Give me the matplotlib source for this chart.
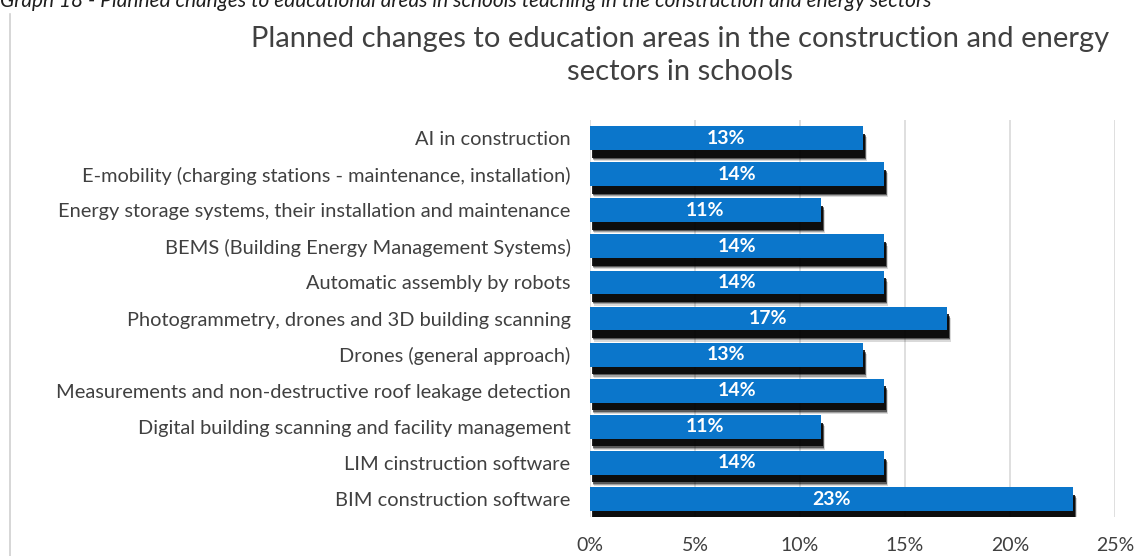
import matplotlib.pyplot as plt
import matplotlib.patheffects as pe
from matplotlib.ticker import PercentFormatter

plt.rcParams['font.family'] = ['Lato', 'DejaVu Sans']

categories = [
    "AI in construction",
    "E-mobility (charging stations - maintenance, installation)",
    "Energy storage systems, their installation and maintenance",
    "BEMS (Building Energy Management Systems)",
    "Automatic assembly by robots",
    "Photogrammetry, drones and 3D building scanning",
    "Drones (general approach)",
    "Measurements and non-destructive roof leakage detection",
    "Digital building scanning and facility management",
    "LIM cinstruction software",
    "BIM construction software",
]
shares = [13, 14, 11, 14, 14, 17, 13, 14, 11, 14, 23]
xticks = [0, 5, 10, 15, 20, 25]

BAR_COLOR = "#0B76CB"
TEXT_COLOR = "#404040"

fig = plt.figure(figsize=(11.46, 5.56), dpi=100)
ax = fig.add_axes([0.5148, 0.07, 0.4581, 0.714])

ypos = list(range(len(categories)))[::-1]

# drop shadow: dark core plus faint outer layers for a soft edge
shadow = [
    pe.SimplePatchShadow(offset=(2.8, -8.0), shadow_rgbFace="black", alpha=0.15),
    pe.SimplePatchShadow(offset=(2.4, -7.2), shadow_rgbFace="black", alpha=0.25),
    pe.SimplePatchShadow(offset=(2.0, -6.4), shadow_rgbFace="black", alpha=0.45),
    pe.SimplePatchShadow(offset=(1.6, -5.5), shadow_rgbFace="black", alpha=0.85),
    pe.Normal(),
]

bars = ax.barh(ypos, shares, height=0.66, color=BAR_COLOR, zorder=3)
for b in bars:
    b.set_path_effects(shadow)

for y, v in zip(ypos, shares):
    ax.text(v / 2, y, f"{v}%", ha="center", va="center", color="white",
            fontsize=14, fontweight="bold", zorder=4)

ax.set_xlim(0, 25)
ax.set_ylim(-0.5, len(categories) - 0.5)
ax.set_xticks(xticks)
ax.xaxis.set_major_formatter(PercentFormatter(decimals=0))
ax.set_yticks(ypos)
ax.set_yticklabels(categories)
ax.tick_params(axis="x", length=0, pad=14, labelsize=14, labelcolor=TEXT_COLOR)
ax.tick_params(axis="y", length=0, pad=14, labelsize=14.4, labelcolor=TEXT_COLOR)
ax.grid(axis="x", color="#D9D9D9", linewidth=1.2, zorder=0)
for s in ax.spines.values():
    s.set_visible(False)

fig.text(0.593, 0.9, "Planned changes to education areas in the construction and energy\nsectors in schools",
         ha="center", va="center", fontsize=21, color=TEXT_COLOR, linespacing=1.3)

# caption above the chart frame
fig.text(0.0, 1 - 7 / 556, "Graph 18 - Planned changes to educational areas in schools teaching in the construction and energy sectors",
         ha="left", va="baseline", fontsize=15, style="italic", color="#1F1F1F")

# chart frame edge on the left
fig.add_artist(plt.Line2D([0.009, 0.009], [0.0, 0.975], color="#D0D0D0", linewidth=1.2))

fig.savefig("out.png", dpi=100)
